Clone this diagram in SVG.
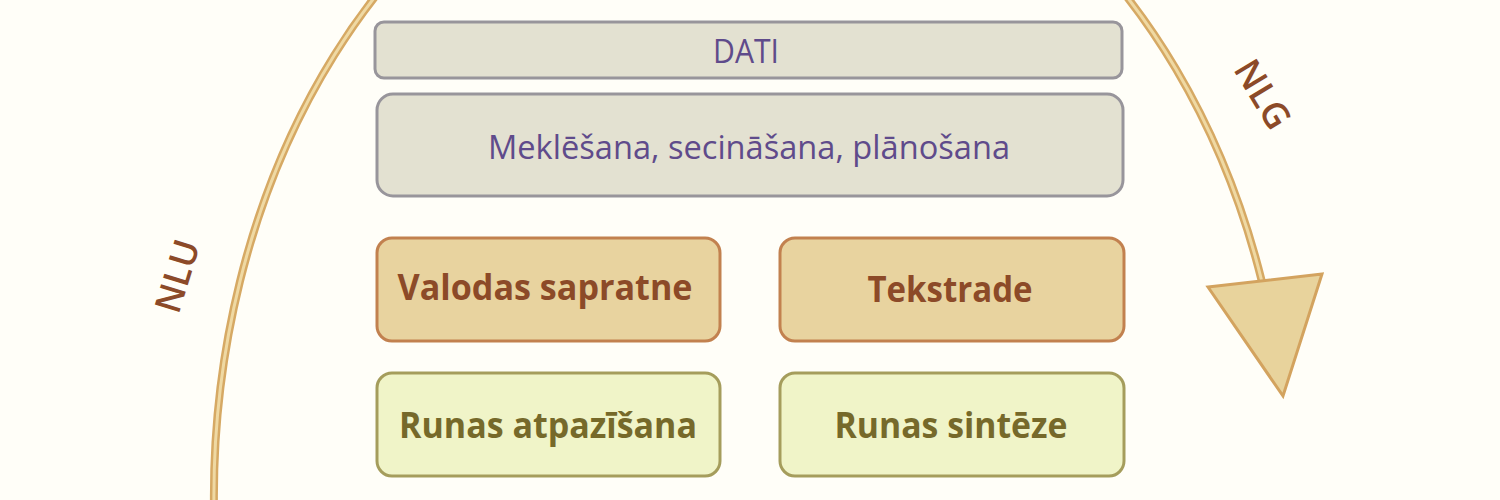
<svg xmlns="http://www.w3.org/2000/svg" width="1500" height="500" viewBox="0 0 1500 500">
<style>
.grey{fill:#E3E1D1;stroke:#98959B;stroke-width:3}
.tan{fill:#E8D39F;stroke:#C2814F;stroke-width:3}
.green{fill:#F0F4C8;stroke:#A59D5C;stroke-width:3}
.t{font-family:"Open Sans","Liberation Sans",sans-serif;text-anchor:middle}
.purple{fill:#5F4B8B;font-size:32px}
.brown{fill:#8C4A28;font-size:35px;font-weight:bold}
.olive{fill:#76692A;font-size:35px;font-weight:bold}
.lbl{fill:#8C4A28;font-size:36px;font-weight:600;font-family:"Open Sans","Liberation Sans",sans-serif;text-anchor:middle}
</style>
<rect width="1500" height="500" fill="#FFFEF8"/>
<g id="connectors">
  <path d="M214.2 520 A537 700 0 0 1 1262 282" fill="none" stroke="#D6A964" stroke-width="8"/>
  <path d="M214.2 520 A537 700 0 0 1 1262 282" fill="none" stroke="#EFD9A3" stroke-width="3"/>
  <polygon points="1208,287 1322,274 1283,396" fill="#E8D39C" stroke="#D3A35F" stroke-width="3" stroke-linejoin="miter"/>
  <text class="lbl" transform="translate(177,276) rotate(-73)" y="13" textLength="74" lengthAdjust="spacingAndGlyphs">NLU</text>
  <text class="lbl" transform="translate(1263,94) rotate(59)" y="13" textLength="74" lengthAdjust="spacingAndGlyphs">NLG</text>
</g>
<g id="dati">
  <rect class="grey" x="375" y="22" width="747" height="56" rx="9"/>
  <text class="t purple" x="746" y="63" textLength="66" lengthAdjust="spacingAndGlyphs">DATI</text>
</g>
<g id="meklesana">
  <rect class="grey" x="377" y="94" width="746" height="102" rx="16"/>
  <text class="t purple" x="749" y="159" textLength="522" lengthAdjust="spacingAndGlyphs">Meklēšana, secināšana, plānošana</text>
</g>
<g id="valodas">
  <rect class="tan" x="377" y="238" width="343" height="103" rx="15"/>
  <text class="t brown" x="545" y="300" textLength="295" lengthAdjust="spacingAndGlyphs">Valodas sapratne</text>
</g>
<g id="tekstrade">
  <rect class="tan" x="780" y="238" width="344" height="103" rx="15"/>
  <text class="t brown" x="950" y="302" textLength="165" lengthAdjust="spacingAndGlyphs">Tekstrade</text>
</g>
<g id="runas-atpazisana">
  <rect class="green" x="377" y="373" width="343" height="103" rx="15"/>
  <text class="t olive" x="548" y="438" textLength="298" lengthAdjust="spacingAndGlyphs">Runas atpazīšana</text>
</g>
<g id="runas-sinteze">
  <rect class="green" x="780" y="373" width="344" height="103" rx="15"/>
  <text class="t olive" x="951" y="438" textLength="233" lengthAdjust="spacingAndGlyphs">Runas sintēze</text>
</g>
</svg>
